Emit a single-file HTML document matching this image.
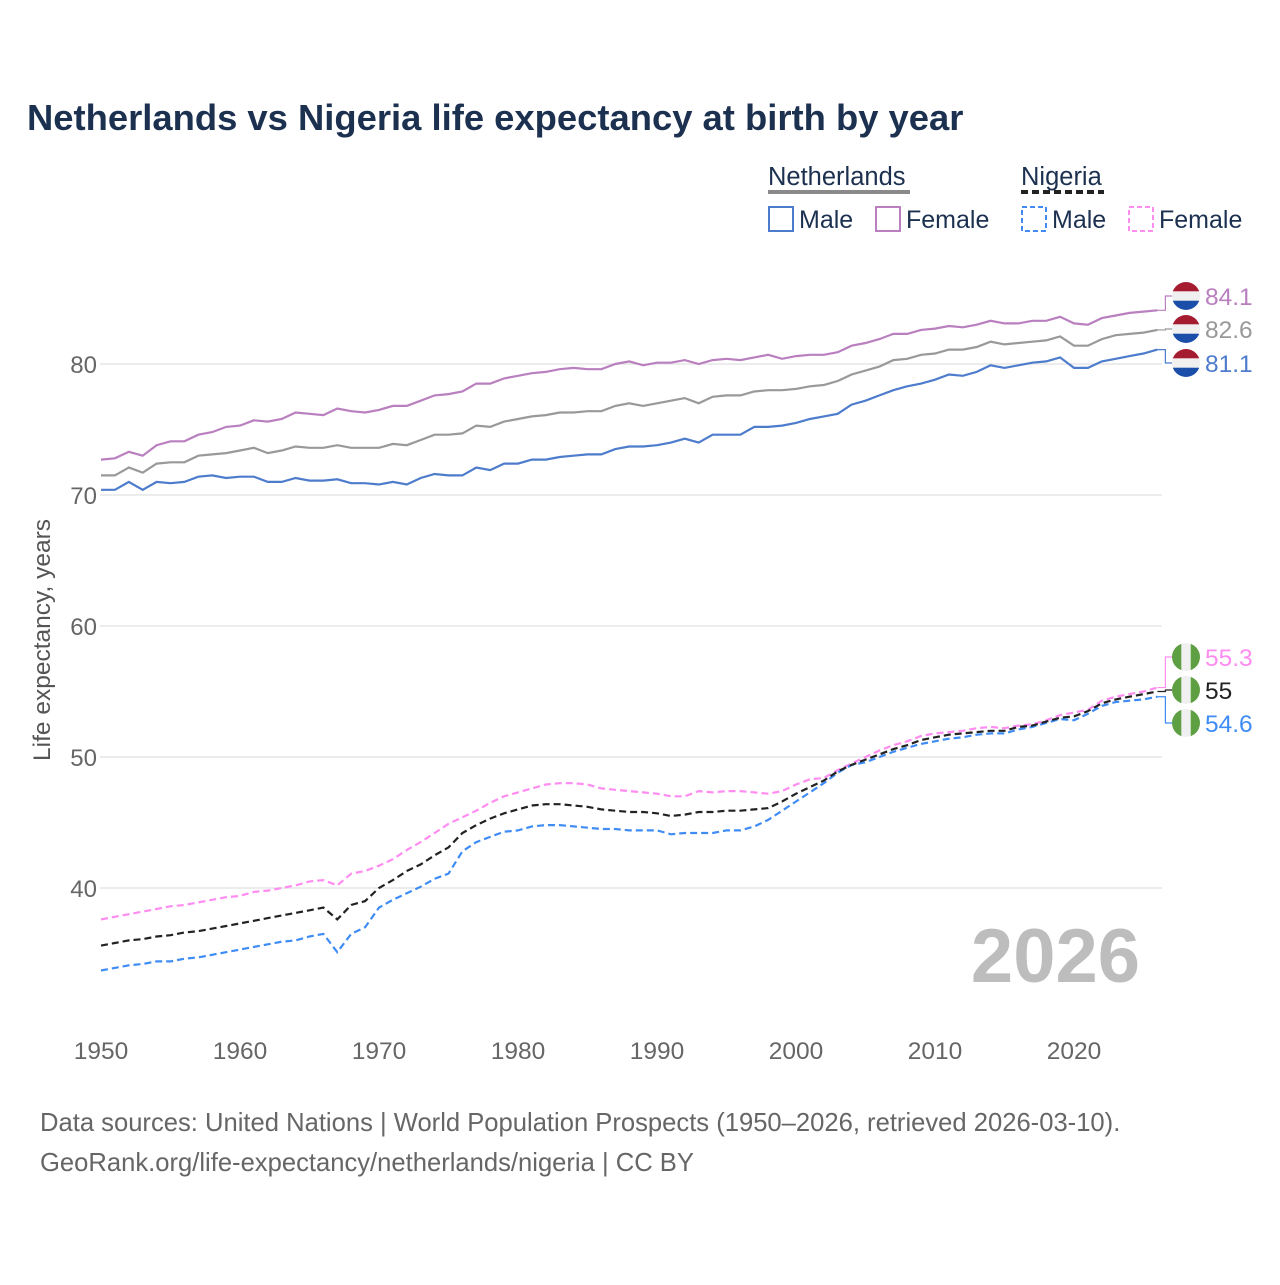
<!DOCTYPE html>
<html><head><meta charset="utf-8">
<style>
body{margin:0;background:#fff;font-family:"Liberation Sans",sans-serif}
svg text{font-family:"Liberation Sans",sans-serif}
</style></head>
<body>
<svg id="chart" width="1280" height="1280" viewBox="0 0 1280 1280">
<text x="27" y="130" font-size="36.4" font-weight="bold" fill="#1c3050">Netherlands vs Nigeria life expectancy at birth by year</text>
<g>
<text x="768" y="185" font-size="25.5" fill="#1c3050">Netherlands</text>
<line x1="768" y1="192" x2="910" y2="192" stroke="#8a8a8a" stroke-width="4"/>
<text x="1021" y="185" font-size="25.5" fill="#1c3050">Nigeria</text>
<line x1="1021" y1="192" x2="1104" y2="192" stroke="#222" stroke-width="4" stroke-dasharray="7,4"/>
<g><rect x="769" y="207" width="24" height="24" fill="none" stroke="#4e7ccc" stroke-width="2"/><text x="799" y="228" font-size="25" fill="#1c3050">Male</text></g>
<g><rect x="876" y="207" width="24" height="24" fill="none" stroke="#b97fbf" stroke-width="2"/><text x="906" y="228" font-size="25" fill="#1c3050">Female</text></g>
<g><rect x="1022" y="207" width="24" height="24" fill="none" stroke="#3f8cf5" stroke-width="2" stroke-dasharray="5,3"/><text x="1052" y="228" font-size="25" fill="#1c3050">Male</text></g>
<g><rect x="1129" y="207" width="24" height="24" fill="none" stroke="#ff8cf0" stroke-width="2" stroke-dasharray="5,3"/><text x="1159" y="228" font-size="25" fill="#1c3050">Female</text></g>
</g>
<g id="grid"></g>
<g id="series"></g>
<g id="labels"></g>
<text x="1140" y="982" font-size="76" font-weight="bold" fill="#bdbdbd" text-anchor="end">2026</text>
<text transform="translate(50,640) rotate(-90)" font-size="24.5" fill="#555" text-anchor="middle">Life expectancy, years</text>
<text x="40" y="1131" font-size="25.6" fill="#666">Data sources: United Nations | World Population Prospects (1950–2026, retrieved 2026-03-10).</text>
<text x="40" y="1171" font-size="25.6" fill="#666">GeoRank.org/life-expectancy/netherlands/nigeria | CC BY</text>
</svg>
<script>
const startYear = 1950;
const xTicks = [1950,1960,1970,1980,1990,2000,2010,2020];
const yTicks = [40,50,60,70,80];
const nlMale = [70.4,70.4,71.0,70.4,71.0,70.9,71.0,71.4,71.5,71.3,71.4,71.4,71.0,71.0,71.3,71.1,71.1,71.2,70.9,70.9,70.8,71.0,70.8,71.3,71.6,71.5,71.5,72.1,71.9,72.4,72.4,72.7,72.7,72.9,73.0,73.1,73.1,73.5,73.7,73.7,73.8,74.0,74.3,74.0,74.6,74.6,74.6,75.2,75.2,75.3,75.5,75.8,76.0,76.2,76.9,77.2,77.6,78.0,78.3,78.5,78.8,79.2,79.1,79.4,79.9,79.7,79.9,80.1,80.2,80.5,79.7,79.7,80.2,80.4,80.6,80.8,81.1];
const nlFemale = [72.7,72.8,73.3,73.0,73.8,74.1,74.1,74.6,74.8,75.2,75.3,75.7,75.6,75.8,76.3,76.2,76.1,76.6,76.4,76.3,76.5,76.8,76.8,77.2,77.6,77.7,77.9,78.5,78.5,78.9,79.1,79.3,79.4,79.6,79.7,79.6,79.6,80.0,80.2,79.9,80.1,80.1,80.3,80.0,80.3,80.4,80.3,80.5,80.7,80.4,80.6,80.7,80.7,80.9,81.4,81.6,81.9,82.3,82.3,82.6,82.7,82.9,82.8,83.0,83.3,83.1,83.1,83.3,83.3,83.6,83.1,83.0,83.5,83.7,83.9,84.0,84.1];
const nlTotal = [71.5,71.5,72.1,71.7,72.4,72.5,72.5,73.0,73.1,73.2,73.4,73.6,73.2,73.4,73.7,73.6,73.6,73.8,73.6,73.6,73.6,73.9,73.8,74.2,74.6,74.6,74.7,75.3,75.2,75.6,75.8,76.0,76.1,76.3,76.3,76.4,76.4,76.8,77.0,76.8,77.0,77.2,77.4,77.0,77.5,77.6,77.6,77.9,78.0,78.0,78.1,78.3,78.4,78.7,79.2,79.5,79.8,80.3,80.4,80.7,80.8,81.1,81.1,81.3,81.7,81.5,81.6,81.7,81.8,82.1,81.4,81.4,81.9,82.2,82.3,82.4,82.6];
const ngMale = [33.7,33.9,34.1,34.2,34.4,34.4,34.6,34.7,34.9,35.1,35.3,35.5,35.7,35.9,36.0,36.3,36.5,35.1,36.5,37.0,38.5,39.1,39.6,40.1,40.7,41.1,42.8,43.5,43.9,44.3,44.4,44.7,44.8,44.8,44.7,44.6,44.5,44.5,44.4,44.4,44.4,44.1,44.2,44.2,44.2,44.4,44.4,44.7,45.2,45.9,46.6,47.3,48.0,48.8,49.4,49.6,50.0,50.4,50.7,51.0,51.2,51.4,51.5,51.7,51.8,51.8,52.1,52.3,52.6,52.9,52.8,53.3,53.9,54.2,54.3,54.4,54.6];
const ngFemale = [37.6,37.8,38.0,38.2,38.4,38.6,38.7,38.9,39.1,39.3,39.4,39.7,39.8,40.0,40.2,40.5,40.6,40.2,41.1,41.3,41.7,42.2,42.9,43.5,44.2,44.9,45.4,45.9,46.5,47.0,47.3,47.6,47.9,48.0,48.0,47.9,47.6,47.5,47.4,47.3,47.2,47.0,47.0,47.4,47.3,47.4,47.4,47.3,47.2,47.4,47.9,48.3,48.4,49.0,49.5,50.0,50.5,50.9,51.2,51.6,51.8,51.9,52.0,52.2,52.3,52.2,52.4,52.5,52.8,53.2,53.4,53.6,54.3,54.6,54.8,55.0,55.3];
const ngTotal = [35.6,35.8,36.0,36.1,36.3,36.4,36.6,36.7,36.9,37.1,37.3,37.5,37.7,37.9,38.1,38.3,38.5,37.6,38.7,39.0,40.0,40.6,41.3,41.8,42.5,43.1,44.2,44.8,45.3,45.7,46.0,46.3,46.4,46.4,46.3,46.2,46.0,45.9,45.8,45.8,45.7,45.5,45.6,45.8,45.8,45.9,45.9,46.0,46.1,46.6,47.2,47.7,48.2,48.9,49.4,49.8,50.2,50.6,50.9,51.3,51.5,51.7,51.8,51.9,52.0,52.0,52.3,52.4,52.7,53.0,53.1,53.5,54.1,54.4,54.6,54.8,55.0];

const NS='http://www.w3.org/2000/svg';
function xs(yr){return 101+(yr-1950)*13.9;}
function ys(v){return 364+(80-v)*13.1;}
function mk(tag,attrs,parent){const e=document.createElementNS(NS,tag);for(const k in attrs)e.setAttribute(k,attrs[k]);parent.appendChild(e);return e;}
const grid=document.getElementById('grid');
yTicks.forEach(t=>{
  const l=mk('line',{x1:100,x2:1162,y1:ys(t),y2:ys(t),stroke:'#e6e6e6','stroke-width':1.5},grid);
  
  
  const tx=mk('text',{x:97,y:ys(t)+9,'font-size':24,fill:'#666','text-anchor':'end'},grid);
  tx.textContent=t;
  
  
});
xTicks.forEach(t=>{
  const tx=mk('text',{x:xs(t),y:1059,'font-size':24.5,fill:'#666','text-anchor':'middle'},grid);
  tx.textContent=t;
  
  
});
const series=document.getElementById('series');
function line(arr,color,dash,name){
  const d=arr.map((v,i)=>(i?'L':'M')+xs(startYear+i).toFixed(1)+','+ys(v).toFixed(1)).join('');
  const p=mk('path',{d:d,fill:'none',stroke:color,'stroke-width':2.2},series);
  if(dash)p.setAttribute('stroke-dasharray','7,4');
  
  
}
line(nlTotal,'#999',false,'line-netherlands-total');
line(nlFemale,'#b97fbf',false,'line-netherlands-female');
line(nlMale,'#4e7ccc',false,'line-netherlands-male');
line(ngFemale,'#ff8cf0',true,'line-nigeria-female');
line(ngMale,'#3f8cf5',true,'line-nigeria-male');
line(ngTotal,'#222',true,'line-nigeria-total');

const labels=document.getElementById('labels');
const lx=xs(2026);
function flag(cy,type,name){
  const g=mk('g',{},labels);
  
  
  const id='c'+Math.round(cy);
  const cp=mk('clipPath',{id:id},g);mk('circle',{cx:1186,cy:cy,r:14},cp);
  const gg=mk('g',{'clip-path':'url(#'+id+')'},g);
  if(type==='nl'){
    mk('rect',{x:1172,y:cy-14,width:28,height:9.5,fill:'#a51c30'},gg);
    mk('rect',{x:1172,y:cy-4.7,width:28,height:9.4,fill:'#f0f0f0'},gg);
    mk('rect',{x:1172,y:cy+4.7,width:28,height:9.5,fill:'#1a4ea8'},gg);
  } else {
    mk('rect',{x:1172,y:cy-14,width:9.4,height:28,fill:'#5f9f43'},gg);
    mk('rect',{x:1181.4,y:cy-14,width:9.3,height:28,fill:'#f0f0f0'},gg);
    mk('rect',{x:1190.7,y:cy-14,width:9.4,height:28,fill:'#5f9f43'},gg);
  }
}
function label(arr,cy,color,type,name){
  const v=arr[arr.length-1];
  const vy=ys(v);
  const c=mk('path',{d:'M'+lx+','+vy+'L'+(lx+8)+','+vy+'L'+(lx+8)+','+cy+'L1172,'+cy,fill:'none',stroke:color,'stroke-width':1.2},labels);
  
  
  flag(cy,type,name+'-flag');
  const t=mk('text',{x:1205,y:cy+9,'font-size':24.5,fill:color},labels);
  t.textContent=v;
  
  
}
label(nlFemale,296,'#b97fbf','nl','label-nl-female');
label(nlTotal,329,'#999','nl','label-nl-total');
label(nlMale,363,'#4e7ccc','nl','label-nl-male');
label(ngFemale,657,'#ff8cf0','ng','label-ng-female');
label(ngTotal,690,'#222','ng','label-ng-total');
label(ngMale,723,'#3f8cf5','ng','label-ng-male');
</script>
</body></html>
